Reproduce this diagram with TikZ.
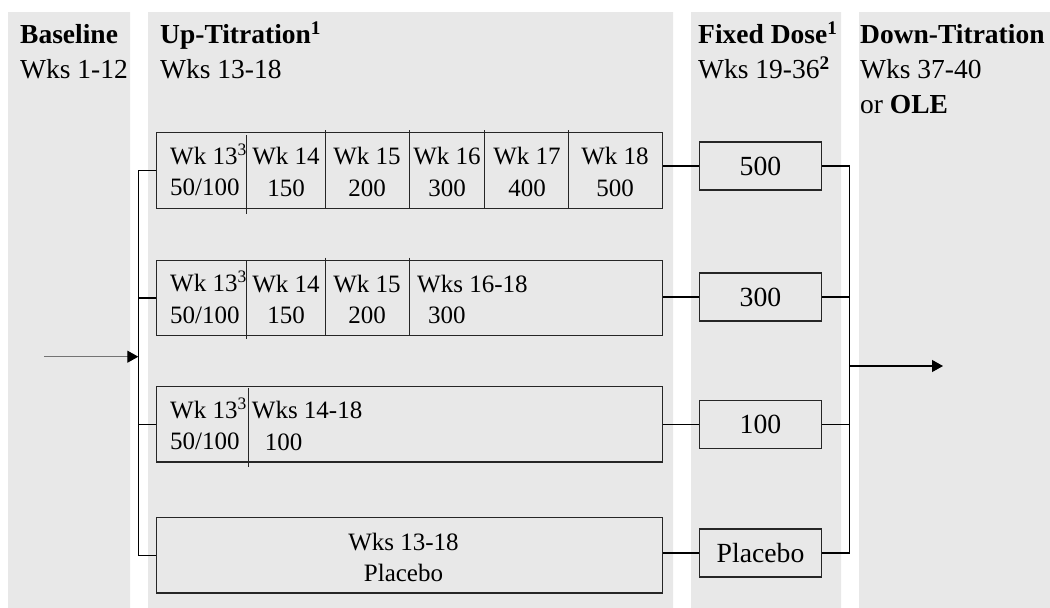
\documentclass[tikz,border=0pt]{standalone}
\usepackage{fontspec}
\setmainfont{Liberation Serif}
\usetikzlibrary{arrows.meta}
\definecolor{panelGray}{RGB}{232,232,232}
\colorlet{boxLine}{black!85}
\colorlet{feedLine}{black!55}

\begin{document}
\begin{tikzpicture}[x=1pt,y=-1pt,
  hdr/.style={anchor=base west,inner sep=0,align=left,font=\fontsize{27.5}{35}\selectfont},
  cell/.style={inner sep=0,align=center,font=\fontsize{25}{31.5}\selectfont},
  cellleft/.style={cell,anchor=west,align=left},
  rowbox/.style={draw=boxLine,line width=1.2pt,minimum width=506pt,minimum height=75.5pt,inner sep=0},
  dosebox/.style={draw=boxLine,line width=1.2pt,minimum width=122pt,minimum height=48pt,inner sep=0,font=\fontsize{27.7}{33}\selectfont},
  divider/.style={boxLine,line width=1.1pt},
  link/.style={line width=1.2pt},
  tip/.style={-{Triangle[length=11pt,width=12pt,color=black]}}]
\useasboundingbox (0,0) rectangle (1050,608);
\fill[panelGray] (8,12) rectangle (130,608) (148,12) rectangle (673,608)
  (691,12) rectangle (841,608) (859,12) rectangle (1050,608);

\node[hdr] (baseline) at (20,78.3) {\textbf{Baseline}\\Wks 1-12};
\node[hdr] (uptitr) at (160,78.3) {\textbf{Up-Titration\textsuperscript{1}}\\Wks 13-18};
\node[hdr] (fixed) at (698,78.3) {\textbf{Fixed Dose\textsuperscript{1}}\\Wks 19-36\textsuperscript{\textbf{2}}};
\node[hdr] (downtitr) at (860,113.3) {\textbf{Down-Titration}\\Wks 37-40\\or \textbf{OLE}};

\node[rowbox] (r1) at (409.7,170.5) {};
\node[rowbox] (r2) at (409.7,298) {};
\node[rowbox] (r3) at (409.7,424.2) {};
\node[rowbox] (r4) at (409.7,555.3) {};

\draw[divider] (246.7,135) -- (246.7,213.5);
\foreach \x in {325.3,409.3,484.3,568.7}
  \draw[divider] (\x,130) -- (\x,208.3);
\draw[divider] (246.7,260) -- (246.7,339);
\foreach \x in {325.3,409.3}
  \draw[divider] (\x,257.5) -- (\x,336.3);
\draw[divider] (248.3,388) -- (248.3,466.7);

\node[cellleft] (r1wk13) at (170,170) {Wk 13\textsuperscript{3}\\50/100};
\foreach \x/\wk/\dd [count=\i] in {286/14/150,367/15/200,447/16/300,527/17/400,615/18/500}
  \node[cell] (r1c\i) at (\x,172) {Wk \wk\\\dd};
\node[cellleft] (r2wk13) at (170,297.5) {Wk 13\textsuperscript{3}\\50/100};
\foreach \x/\wk/\dd [count=\i] in {286/14/150,367/15/200}
  \node[cell] (r2c\i) at (\x,299.5) {Wk \wk\\\dd};
\node[cellleft] (r2c3) at (417,299.5) {Wks 16-18\\\hspace*{11pt}300};
\node[cellleft] (r3wk13) at (170,423.7) {Wk 13\textsuperscript{3}\\50/100};
\node[cellleft] (r3c1) at (251.7,425.7) {Wks 14-18\\\hspace*{13pt}100};
\node[cell] (r4txt) at (403.5,557.5) {Wks 13-18\\Placebo};

\node[dosebox] (f1) at (760.5,166) {500};
\node[dosebox] (f2) at (760.5,297) {300};
\node[dosebox] (f3) at (760.5,424.5) {100};
\node[dosebox] (f4) at (760.5,553) {Placebo};

\coordinate (lbus) at (138.3,0);
\coordinate (rbus) at (849.5,0);
\coordinate (entry) at (44,356.7);
\coordinate (exit) at (943,366);

\draw[link] (r1.west) -| (lbus |- r4.west) -- (r4.west);
\draw[link] (r2.west) -- (r2.west -| lbus);
\draw[link] (r3.west) -- (r3.west -| lbus);
\draw[link,feedLine,tip] (entry) -- (entry -| lbus);

\foreach \i in {1,...,4}
  \draw[link] (f\i.west) -- (f\i.west -| r\i.east);

\draw[link] (f1.east) -| (rbus |- f4.east) -- (f4.east);
\draw[link] (f2.east) -- (f2.east -| rbus);
\draw[link] (f3.east) -- (f3.east -| rbus);
\draw[link,tip] (exit -| rbus) -- (exit);
\end{tikzpicture}
\end{document}
